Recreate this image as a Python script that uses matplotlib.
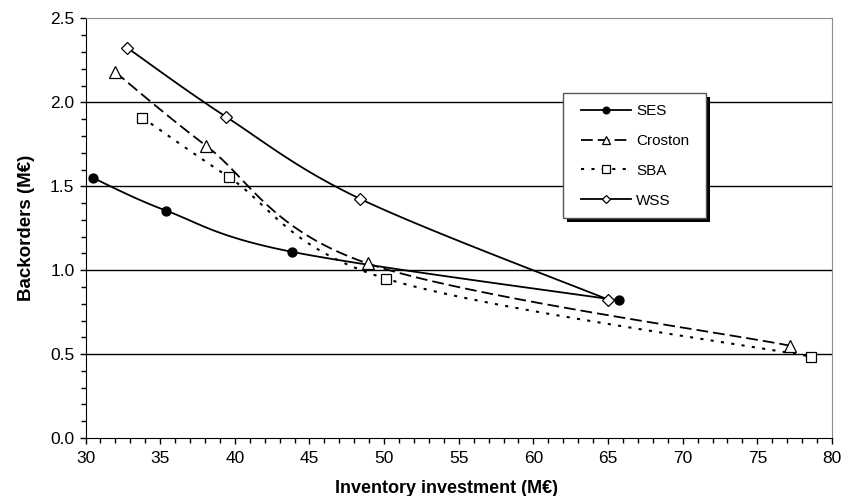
import numpy as np
import matplotlib
matplotlib.use('Agg')
from matplotlib import pyplot as plt
from matplotlib.patches import Rectangle
from matplotlib.legend_handler import HandlerLine2D
from matplotlib.ticker import MultipleLocator, FormatStrFormatter

plt.rcParams['font.family'] = ['Liberation Sans', 'DejaVu Sans']

# values
ses_x = [30.5, 35.4, 43.8, 65.7]
ses_y = [1.55, 1.355, 1.11, 0.82]
croston_x = [32.0, 38.1, 48.9, 77.2]
croston_y = [2.18, 1.74, 1.04, 0.55]
sba_x = [33.8, 39.6, 50.1, 78.6]
sba_y = [1.91, 1.555, 0.95, 0.485]
wss_x = [32.8, 39.4, 48.4, 65.0]
wss_y = [2.325, 1.915, 1.425, 0.825]

XLIM = (30, 80)
YLIM = (0, 2.5)
W, H = 842, 496


def smooth(x, y, n=40):
    # excel style smoothed line: bezier with catmull-rom control points,
    # worked out in screen-proportional space
    sx, sy = 746.5 / (XLIM[1] - XLIM[0]), 419.5 / (YLIM[1] - YLIM[0])
    p = np.column_stack([np.asarray(x) * sx, np.asarray(y) * sy])
    p = np.vstack([p[0], p, p[-1]])
    out = []
    t = np.linspace(0, 1, n, endpoint=False)[:, None]
    for i in range(1, len(p) - 2):
        p0, p1, p2, p3 = p[i - 1], p[i], p[i + 1], p[i + 2]
        c1 = p1 + (p2 - p0) / 6
        c2 = p2 - (p3 - p1) / 6
        seg = ((1 - t) ** 3) * p1 + 3 * ((1 - t) ** 2) * t * c1 \
            + 3 * (1 - t) * t ** 2 * c2 + t ** 3 * p2
        out.append(seg)
    out.append(p[-2][None, :])
    out = np.vstack(out)
    marks = list(range(0, n * (len(x) - 1) + 1, n))
    return out[:, 0] / sx, out[:, 1] / sy, marks


def small_marker(leg_line, orig):
    leg_line.update_from(orig)
    leg_line.set_markersize(orig.get_markersize() * 0.75)


fig = plt.figure(figsize=(W / 100, H / 100), dpi=100)
ax = fig.add_axes([85.5 / W, 1 - 438 / H, (832 - 85.5) / W, (438 - 18.5) / H])

series = [
    ('SES', ses_x, ses_y, dict(ls='-', marker='o', mfc='black', ms=6.5)),
    ('Croston', croston_x, croston_y, dict(ls=(0, (6.5, 2.8)), marker='^', mfc='white', ms=8)),
    ('SBA', sba_x, sba_y, dict(ls=(0, (1.5, 3.5)), marker='s', mfc='white', ms=7)),
    ('WSS', wss_x, wss_y, dict(ls='-', marker='D', mfc='white', ms=6)),
]
handles = []
for name, xs, ys, st in series:
    cx, cy, marks = smooth(xs, ys)
    lw = 1.5 if name == 'SBA' else 1.3
    ln, = ax.plot(cx, cy, color='black', lw=lw, markevery=marks, mec='black',
                  mew=0.9, label=name, zorder=3, **st)
    handles.append(ln)

ax.set_xlim(*XLIM)
ax.set_ylim(*YLIM)
ax.xaxis.set_major_locator(MultipleLocator(5))
ax.xaxis.set_minor_locator(MultipleLocator(1))
ax.yaxis.set_major_locator(MultipleLocator(0.5))
ax.yaxis.set_minor_locator(MultipleLocator(0.1))
ax.yaxis.set_major_formatter(FormatStrFormatter('%.1f'))
ax.tick_params(which='both', direction='out', top=False, right=False,
               labelsize=12.5, colors='black', width=1)
ax.tick_params(which='major', length=4.5)
ax.tick_params(which='minor', length=3.5)
ax.tick_params(axis='x', which='major', pad=5)
ax.tick_params(axis='y', which='major', pad=3.5)
for v in [0.5, 1.0, 1.5, 2.0]:
    ax.axhline(v, color='black', lw=1, zorder=1)
for s in ['top', 'right']:
    ax.spines[s].set_color('#8c8c8c')
for s in ['left', 'bottom']:
    ax.spines[s].set_color('black')

ax.set_xlabel('Inventory investment (M€)', fontsize=13, fontweight='bold', labelpad=10)
ax.xaxis.label.set_x(0.4836)
ax.set_ylabel('Backorders (M€)', fontsize=13.5, fontweight='bold', labelpad=11)

# legend box with a hard drop shadow, drawn in figure pixels
bx0, by0, bx1, by1 = 563, 93, 706, 218
shadow = Rectangle(((bx0 + 4) / W, 1 - (by1 + 4) / H), (bx1 - bx0) / W, (by1 - by0) / H,
                   transform=fig.transFigure, facecolor='black', edgecolor='none', zorder=2)
box = Rectangle((bx0 / W, 1 - by1 / H), (bx1 - bx0) / W, (by1 - by0) / H,
                transform=fig.transFigure, facecolor='white', edgecolor='#555555',
                lw=1, zorder=2.5)
fig.add_artist(shadow)
fig.add_artist(box)

leg = fig.legend(handles=handles, loc='upper left', bbox_to_anchor=(581 / W, 1 - 104 / H),
                 fontsize=11, frameon=False, numpoints=1, handlelength=3.3,
                 handletextpad=0.3, labelspacing=1.04, borderpad=0, borderaxespad=0,
                 handler_map={ln: HandlerLine2D(update_func=small_marker) for ln in handles})
leg.set_zorder(3)

fig.savefig('out.png', dpi=100)
